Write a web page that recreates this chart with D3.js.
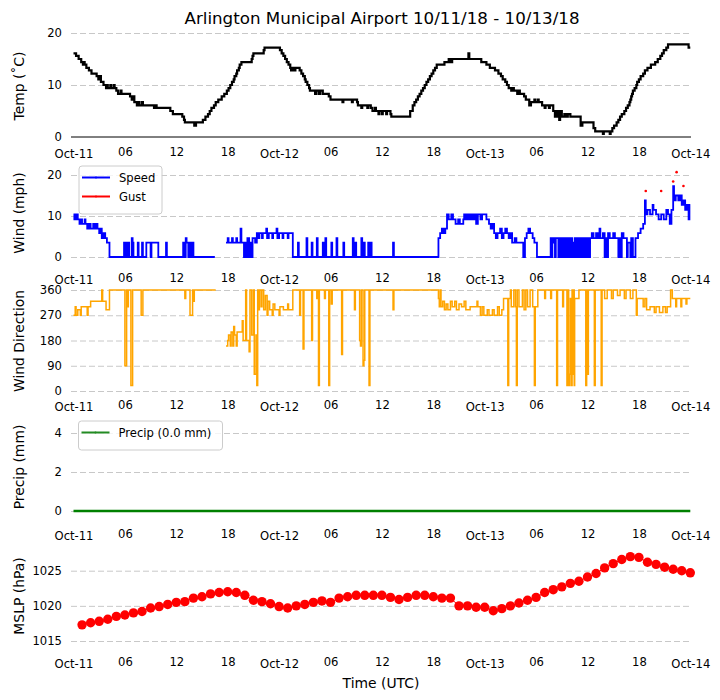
<!DOCTYPE html>
<html>
<head>
<meta charset="utf-8">
<script src="https://cdn.jsdelivr.net/npm/d3@7"></script>
<style>
  body { margin: 0; background: #fff; }
  svg { font-family: "DejaVu Sans", sans-serif; }
</style>
</head>
<body>
<script>
// hours since 2018-10-11 00 UTC
const hourTicks = [0, 6, 12, 18, 24, 30, 36, 42, 48, 54, 60, 66, 72];
const hourLabels = ["Oct-11", "06", "12", "18", "Oct-12", "06", "12", "18", "Oct-13", "06", "12", "18", "Oct-14"];
const dayTicks = [0, 24, 48, 72];

// [hour, degC] - value holds until the next entry
const tempObs = [
  [0,16.1],[0.3,15.6],[0.6,15.0],[0.9,14.4],[1.1,13.9],[1.2,14.4],[1.3,13.9],[1.5,13.3],[1.8,12.8],[2.1,12.2],[2.7,11.7],[2.9,11.1],[3.1,11.7],[3.2,10.6],[3.5,10.0],[3.8,9.4],[3.9,10.0],[4.0,9.4],[4.3,10.0],[4.4,9.4],[4.7,10.0],[4.8,9.4],[5.0,8.9],[5.2,8.3],[5.5,8.9],[5.6,8.3],
  [6.6,7.8],[6.8,7.2],[7.0,7.8],[7.1,6.7],[7.4,6.1],[7.6,6.7],[7.7,6.1],[8.0,6.7],[8.1,6.1],[9.4,5.6],[9.6,6.1],[9.7,5.6],[11.3,5.0],[11.6,4.4],[12.7,3.9],[12.9,3.3],[13.0,2.8],[14.1,2.2],[14.3,2.8],[15.1,3.3],[15.4,3.9],[15.7,4.4],[15.9,5.0],[16.1,5.6],[16.4,6.1],[16.6,6.7],[16.9,7.2],[17.3,7.8],[17.6,8.3],[17.9,8.9],
  [18.1,9.4],[18.3,10.0],[18.5,10.6],[18.7,11.1],[18.8,11.7],[19.0,12.2],[19.1,12.8],[19.3,13.3],[19.4,13.9],[19.6,14.4],[20.8,15.0],[20.9,15.6],[21.0,16.1],[22.2,16.7],[22.3,17.2],[24.1,16.7],[24.3,16.1],[24.5,15.6],[24.7,15.0],[24.9,14.4],[25.1,13.9],[25.3,13.3],[25.4,12.8],[25.6,13.3],[25.8,12.8],[25.9,13.3],
  [26.4,12.8],[26.6,12.2],[26.8,11.7],[27.0,11.1],[27.1,10.6],[27.3,10.0],[27.5,9.4],[27.6,8.9],[28.2,8.3],[28.3,8.9],[28.6,8.3],[28.8,8.9],[29.1,8.3],[29.8,7.8],[30.0,7.2],[31.4,6.7],[31.5,7.2],[32.5,6.7],[32.6,7.2],[33.1,6.7],[33.2,6.1],[33.6,5.6],[33.7,6.1],[34.3,5.6],[34.4,6.1],[34.7,5.6],[34.9,5.0],[35.2,5.6],[35.3,5.0],[35.6,4.4],[35.7,5.0],
  [36.0,4.4],[36.1,5.0],[36.5,4.4],[36.6,5.0],[37.0,4.4],[37.1,3.9],[39.3,5.0],[39.6,6.1],[39.8,6.7],[40.0,7.2],[40.2,7.8],[40.4,8.3],[40.6,8.9],[40.8,9.4],[41.0,10.0],[41.2,10.6],[41.4,11.1],[41.6,11.7],[41.8,12.2],[42.0,12.8],[42.2,13.3],[42.4,13.9],[43.3,14.4],[43.8,15.0],[44.0,14.4],[44.2,15.0],[46.1,16.1],[46.2,15.0],[47.6,14.4],
  [48.2,13.9],[48.6,13.3],[49.2,12.8],[49.6,12.2],[49.9,11.7],[50.1,11.1],[50.4,10.6],[50.6,10.0],[50.8,9.4],[51.1,8.9],[51.3,9.4],[51.4,8.9],[51.8,8.3],[52.0,8.9],[52.1,8.3],[52.6,7.8],[52.8,7.2],[53.2,6.1],[53.4,6.7],[53.8,7.2],[53.9,6.7],[54.2,7.2],[54.3,6.7],[54.7,6.1],[55.0,5.6],[55.1,6.1],[55.5,5.6],[55.6,6.1],
  [56.0,5.0],[56.2,3.9],[56.3,5.0],[56.5,3.9],[56.6,5.0],[56.7,3.3],[56.8,5.0],[57.0,3.9],[57.3,4.4],[57.5,3.9],[57.7,4.4],[58.0,3.9],[59.2,2.2],[59.4,2.8],[60.7,1.7],[60.9,1.1],[61.8,0.6],[61.9,1.1],[62.6,0.6],[62.7,1.1],[62.9,1.7],[63.1,2.2],[63.4,2.8],[63.6,3.3],[63.8,3.9],[64.0,4.4],[64.3,5.0],[64.5,5.6],[64.7,6.1],[64.9,6.7],
  [65.0,7.2],[65.1,7.8],[65.2,8.3],[65.3,8.9],[65.5,9.4],[65.7,10.0],[65.8,10.6],[66.0,11.1],[66.2,11.7],[66.5,12.2],[66.7,12.8],[67.0,13.3],[67.4,13.9],[67.9,14.4],[68.2,15.0],[68.5,15.6],[68.7,16.1],[68.9,16.7],[69.2,17.2],[69.4,17.8],[71.8,17.2],[72,17.2]
];

// [hour, mph]; null = missing
const speedObs = [
  [0,10.4],[0.1,9.2],[0.2,10.4],[0.3,9.2],[0.45,10.4],[0.5,9.2],[0.7,8.1],[0.9,9.2],[1.0,8.1],[1.3,9.2],[1.4,8.1],[1.6,6.9],[1.8,8.1],[2.0,6.9],[2.3,8.1],[2.4,6.9],[2.6,8.1],[2.8,6.9],[3.0,5.8],[3.2,6.9],[3.3,4.6],[3.5,5.8],[3.7,4.6],[3.9,3.5],[4.2,0],
  [5.9,3.5],[6.0,0],[6.1,3.5],[6.2,0],[6.4,3.5],[6.5,0],[6.8,4.6],[6.9,3.5],[7.0,0],[7.5,3.5],[7.6,0],[8.0,3.5],[8.1,0],[8.5,3.5],[9.0,0],[9.1,3.5],[9.9,0],[10.8,3.5],[10.9,0],[12.8,3.5],[12.9,0],[13.1,4.6],[13.2,3.5],[13.4,0],[13.5,3.5],[13.7,0],[13.8,3.5],[14.0,0],[16.5,0],[16.6,null],
  [17.8,3.5],[18.0,4.6],[18.1,3.5],[18.5,4.6],[18.6,3.5],[19.0,4.6],[19.1,3.5],[19.5,6.9],[19.6,3.5],[19.9,0],[20.0,3.5],[20.2,0],[20.3,4.6],[20.5,0],[20.6,3.5],[20.8,0],[20.9,4.6],[21.2,3.5],[21.4,5.8],[21.5,4.6],
  [21.7,5.8],[22.0,4.6],[22.1,5.8],[22.5,6.9],[22.6,4.6],[22.8,5.8],[23.2,4.6],[23.3,5.8],[23.7,6.9],[23.8,4.6],[24.0,5.8],[24.4,4.6],[24.5,5.8],[25.0,4.6],[25.1,5.8],[25.6,0],
  [26.2,3.5],[26.3,0],[27.2,4.6],[27.3,0],[27.8,3.5],[27.9,0],[28.4,4.6],[28.5,0],[29.1,3.5],[29.2,0],[29.4,4.6],[29.5,0],[30.1,3.5],[30.2,0],[30.7,4.6],[30.8,0],[31.5,3.5],[31.6,0],[32.6,4.6],[32.7,0],[32.9,3.5],[33.0,0],[33.6,4.6],[33.7,0],[33.9,3.5],[34.0,0],[34.4,3.5],[34.5,0],[34.7,3.5],[34.8,0],
  [37.3,3.5],[37.4,0],[42.6,4.6],[42.8,5.8],[43.0,6.9],[43.2,5.8],[43.4,6.9],[43.6,10.4],[43.8,9.2],[44.1,10.4],[44.3,9.2],[44.6,8.1],[44.9,9.2],[45.1,8.1],[45.5,9.2],[45.6,10.4],[45.8,9.2],[46.0,10.4],[46.2,9.2],[46.4,10.4],[46.6,9.2],[46.8,10.4],[47.0,8.1],[47.2,10.4],[47.5,9.2],[47.7,10.4],
  [48.2,9.2],[48.5,8.1],[48.7,6.9],[48.9,8.1],[49.1,5.8],[49.3,4.6],[49.5,5.8],[49.8,6.9],[50.0,4.6],[50.2,5.8],[50.4,6.9],[50.6,5.8],[50.8,4.6],[51.0,5.8],[51.2,3.5],[51.5,4.6],[51.7,3.5],[52.5,0],[52.7,4.6],[52.9,5.8],[53.1,6.9],[53.3,5.8],[53.6,4.6],[53.8,3.5],[54.1,0],
  [55.7,4.6],[55.8,0],[55.9,3.5],[56.0,4.6],[56.2,0],[56.3,4.6],[56.6,0],[56.7,4.6],[56.8,0],[56.9,4.6],[57.0,0],[57.1,4.6],[57.3,0],[57.4,4.6],[57.6,0],[57.7,4.6],[57.8,0],[57.9,4.6],[58.0,0],[58.1,4.6],[58.2,0],[58.3,3.5],[58.4,0],[58.5,4.6],[58.6,0],[58.7,4.6],[58.8,0],[58.9,4.6],[59.0,0],[59.1,4.6],[59.2,0],[59.3,4.6],[59.4,0],[59.5,4.6],[59.6,0],[59.7,4.6],[59.8,0],[59.9,4.6],[60.0,0],[60.1,4.6],[60.2,0],[60.3,4.6],
  [60.5,5.8],[60.7,4.6],[61.0,5.8],[61.2,4.6],[61.4,6.9],[61.5,4.6],[61.8,5.8],[62.0,0],[62.1,4.6],[62.3,0],[62.4,5.8],[62.6,4.6],[63.0,5.8],[63.2,4.6],[63.6,0],[63.7,4.6],[63.9,0],[64.0,5.8],[64.2,4.6],[64.6,0],[64.7,3.5],[65.0,0],[65.1,4.6],[65.3,0],[65.6,4.6],[65.9,5.8],[66.2,6.9],[66.5,8.1],
  [66.7,13.8],[66.8,10.4],[67.0,11.5],[67.3,10.4],[67.6,12.7],[67.7,11.5],[68.0,10.4],[68.3,9.2],[68.6,10.4],[68.9,9.2],[69.2,11.5],[69.4,10.4],[69.6,8.1],[69.8,11.5],[70.0,17.3],[70.1,13.8],[70.3,15.0],[70.6,13.8],[70.8,15.0],[71.0,12.7],[71.2,13.8],[71.4,11.5],[71.6,12.7],[71.8,9.2],[71.9,12.7],[72,12.7]
];

const gustObs = [[66.8,16.1],[68.6,16.1],[70.0,18.4],[70.4,20.7],[71.2,17.3]];

// [hour, degrees]; null = missing
const dirObs = [
  [0,270],[0.2,300],[0.3,270],[0.5,290],[0.8,270],[0.9,300],[1.6,270],[1.7,300],[2.0,320],[3.3,360],[3.4,320],[3.8,290],[4.2,360],
  [6.0,90],[6.2,360],[6.3,300],[6.4,360],[6.7,20],[6.9,360],[7.9,270],[8.1,360],[13.0,330],[13.1,360],[13.6,270],[13.9,360],[14.0,320],[14.1,360],[16.6,360],[16.7,null],
  [17.8,160],[18.0,180],[18.1,200],[18.3,160],[18.4,210],[18.6,160],[18.7,230],[18.8,200],[19.0,160],[19.1,210],[19.7,250],[19.8,180],[20.1,360],[20.2,180],[20.5,140],[20.6,360],[20.8,200],[21.0,360],[21.1,60],[21.3,200],[21.4,20],[21.5,360],[21.6,290],[21.7,360],
  [21.9,300],[22.0,360],[22.2,290],[22.4,340],[22.6,270],[22.7,320],[22.9,290],[23.2,270],[23.3,310],[23.5,290],[24.0,270],[24.1,300],[24.5,290],[25.0,310],[25.1,290],[25.6,360],
  [26.4,270],[26.5,360],[26.8,150],[26.9,360],[27.8,180],[27.9,360],[28.4,330],[28.5,360],[28.6,20],[28.7,360],[29.3,330],[29.4,360],[29.8,20],[29.9,360],[30.1,310],[30.2,360],[31.3,130],[31.4,360],[32.8,290],[32.9,360],[33.4,180],[33.5,160],[33.6,360],[33.8,90],[33.9,110],[34.0,360],[34.5,20],[34.6,360],
  [37.3,290],[37.4,360],[42.6,330],[42.7,300],[42.8,360],[42.9,300],[43.1,320],[43.3,290],[43.5,310],[43.7,290],[44.0,320],[44.2,300],[44.5,320],[44.7,290],[45.0,310],[45.3,300],[45.6,320],[45.8,290],[46.3,300],[47.1,320],[47.2,300],
  [47.5,270],[47.7,300],[47.9,270],[48.3,290],[48.5,270],[48.9,290],[49.1,270],[49.5,300],[49.7,270],[50.0,290],[50.2,330],[50.7,20],[50.8,330],[51.0,360],[51.1,300],[51.4,360],[51.6,300],[51.7,20],[51.8,360],[52.0,300],[52.4,360],[52.6,290],[52.8,360],[53.0,300],[53.3,360],[53.6,300],[53.8,20],[53.9,300],[54.2,360],
  [55.0,330],[55.1,360],[55.7,330],[55.8,360],[56.4,20],[56.5,360],[57.1,300],[57.2,360],[57.6,20],[57.7,360],[57.8,20],[57.9,60],[58.0,330],[58.1,20],[58.2,360],[58.3,60],[58.4,360],[58.45,20],[58.5,330],[59.0,360],
  [59.8,20],[59.9,360],[60.0,60],[60.1,360],[60.8,20],[60.9,360],[61.6,20],[61.7,360],[62.0,330],[62.3,360],[62.8,330],[63.0,360],[63.5,340],[63.8,360],[64.3,330],[64.5,360],[65.0,330],[65.3,360],[65.7,270],[65.8,330],
  [66.5,300],[66.7,330],[66.9,290],[67.3,300],[67.8,280],[68.0,300],[68.4,280],[68.8,300],[69.1,280],[69.3,300],[69.7,360],[69.9,330],[70.3,300],[70.4,330],[70.9,300],[71.0,330],[71.5,310],[71.6,330],[72,330]
];

const precipObs = [[0,0],[72,0]];

// hourly mean sea level pressure, hPa
const mslpHours = d3.range(1, 73);
const mslpValues = [
  1017.3,1017.6,1017.8,1018.1,1018.5,1018.7,1019.0,1019.2,1019.7,1019.9,1020.2,1020.5,
  1020.6,1021.1,1021.3,1021.7,1021.9,1022.0,1021.9,1021.5,1020.8,1020.6,1020.3,1019.9,
  1019.7,1020.0,1020.2,1020.5,1020.7,1020.5,1021.1,1021.3,1021.5,1021.5,1021.5,1021.5,
  1021.2,1020.9,1021.2,1021.5,1021.5,1021.3,1021.1,1021.1,1020.0,1020.0,1019.8,1019.8,
  1019.3,1019.6,1020.0,1020.4,1020.8,1021.2,1021.9,1022.3,1022.7,1023.2,1023.5,1024.1,
  1024.6,1025.4,1026.0,1026.6,1027.0,1026.9,1026.2,1025.9,1025.5,1025.2,1025.0,1024.7
];

const W = 720, H = 700;
const axLeft = 71, axRight = 691;

const svg = d3.select("body").append("svg")
  .attr("width", W).attr("height", H);

const x = d3.scaleLinear().domain([0, 72]).range([73.5, 690.3]);

svg.append("text")
  .attr("x", 382).attr("y", 24)
  .attr("text-anchor", "middle")
  .style("font-size", "16.7px")
  .text("Arlington Municipal Airport 10/11/18 - 10/13/18");

function panel(cfg) {
  const y = d3.scaleLinear().domain(cfg.domain).range(cfg.range);
  const g = svg.append("g");

  // dashed grid
  g.append("g")
    .attr("transform", `translate(${axLeft},0)`)
    .call(d3.axisLeft(y).tickValues(cfg.ticks).tickSize(-(axRight - axLeft)).tickFormat(""))
    .call(s => s.select(".domain").remove())
    .selectAll("line")
      .attr("stroke", "#c8c8c8")
      .attr("stroke-width", 1)
      .attr("stroke-dasharray", "6,3");

  // y tick labels
  g.append("g")
    .attr("transform", `translate(${axLeft},0)`)
    .call(d3.axisLeft(y).tickValues(cfg.ticks).tickSize(0).tickPadding(9).tickFormat(d => String(d)))
    .call(s => s.select(".domain").remove())
    .selectAll("text")
      .style("font-size", "11.6px")
      .style("font-family", "DejaVu Sans")
      .attr("fill", "#000");

  // x tick labels, day labels sit a little lower
  g.append("g")
    .attr("transform", `translate(0,${cfg.xLabelY})`)
    .call(d3.axisBottom(x).tickValues(hourTicks).tickSize(0).tickFormat((d, i) => hourLabels[i]))
    .call(s => s.select(".domain").remove())
    .selectAll("text")
      .attr("y", d => dayTicks.includes(d) ? 2 : 0)
      .attr("dy", "0.35em")
      .style("font-size", "11.6px")
      .style("font-family", "DejaVu Sans")
      .attr("fill", "#000");

  // y label
  g.append("text")
    .attr("transform", `translate(19,${cfg.labelY}) rotate(-90)`)
    .attr("text-anchor", "middle")
    .attr("dy", "0.35em")
    .style("font-size", "13.9px")
    .text(cfg.label);

  return { g, y };
}

function legend(g, x0, y0, w, items) {
  const h = 10 + items.length * 19;
  const lg = g.append("g").attr("transform", `translate(${x0},${y0})`);
  lg.append("rect")
    .attr("width", w).attr("height", h)
    .attr("rx", 3)
    .attr("fill", "#fff").attr("fill-opacity", 0.8)
    .attr("stroke", "#ccc");
  items.forEach((it, i) => {
    const cy = 11.5 + i * 19;
    lg.append("line")
      .attr("x1", 3).attr("x2", 31)
      .attr("y1", cy).attr("y2", cy)
      .attr("stroke", it.color).attr("stroke-width", 2);
    lg.append("circle").attr("cx", 17).attr("cy", cy).attr("r", 1).attr("fill", it.color);
    lg.append("text")
      .attr("x", 40).attr("y", cy).attr("dy", "0.35em")
      .style("font-size", "11.6px")
      .text(it.label);
  });
}

const stepLine = y => d3.line()
  .defined(d => d[1] != null)
  .x(d => x(d[0]))
  .y(d => y(d[1]))
  .curve(d3.curveStepAfter);

// temperature
const pT = panel({ domain: [0, 20], range: [137, 33], ticks: [10, 20], xLabelY: 152, labelY: 86, label: "Temp (˚C)" });
pT.g.append("line")
  .attr("x1", axLeft).attr("x2", axRight)
  .attr("y1", pT.y(0)).attr("y2", pT.y(0))
  .attr("stroke", "#000").attr("stroke-width", 1);
pT.g.append("text")
  .attr("x", axLeft - 9).attr("y", pT.y(0)).attr("dy", "0.32em")
  .attr("text-anchor", "end").style("font-size", "11.6px").text("0");
pT.g.append("path")
  .datum(tempObs)
  .attr("d", stepLine(pT.y))
  .attr("fill", "none")
  .attr("stroke", "#000")
  .attr("stroke-width", 2.2);

// wind speed and gust
const pW = panel({ domain: [0, 20], range: [257, 175], ticks: [0, 10, 20], xLabelY: 278, labelY: 213, label: "Wind (mph)" });
pW.g.append("path")
  .datum(speedObs)
  .attr("d", stepLine(pW.y))
  .attr("fill", "none")
  .attr("stroke", "#0000ff")
  .attr("stroke-width", 1.8);
pW.g.selectAll("circle.gust")
  .data(gustObs)
  .join("circle")
  .attr("class", "gust")
  .attr("cx", d => x(d[0]))
  .attr("cy", d => pW.y(d[1]))
  .attr("r", 1.3)
  .attr("fill", "#ff0000");
legend(pW.g, 79, 166, 83, [{ label: "Speed", color: "#0000ff" }, { label: "Gust", color: "#ff0000" }]);

// wind direction
const pD = panel({ domain: [0, 360], range: [391, 290], ticks: [0, 90, 180, 270, 360], xLabelY: 405, labelY: 341, label: "Wind Direction" });
pD.g.append("path")
  .datum(dirObs)
  .attr("d", stepLine(pD.y))
  .attr("fill", "none")
  .attr("stroke", "#ffa500")
  .attr("stroke-width", 1.5);

// precipitation
const pP = panel({ domain: [0, 4], range: [511, 433], ticks: [0, 2, 4], xLabelY: 534, labelY: 467, label: "Precip (mm)" });
pP.g.append("path")
  .datum(precipObs)
  .attr("d", stepLine(pP.y))
  .attr("fill", "none")
  .attr("stroke", "#008000")
  .attr("stroke-width", 2.6);
legend(pP.g, 78.5, 421, 144, [{ label: "Precip (0.0 mm)", color: "#228b22" }]);

// sea level pressure
const pM = panel({ domain: [1015, 1025], range: [641, 570.7], ticks: [1015, 1020, 1025], xLabelY: 661.5, labelY: 596, label: "MSLP (hPa)" });
const mslp = mslpHours.map((h, i) => [h, mslpValues[i]]);
pM.g.append("path")
  .datum(mslp)
  .attr("d", d3.line().x(d => x(d[0])).y(d => pM.y(d[1])))
  .attr("fill", "none")
  .attr("stroke", "#ff0000")
  .attr("stroke-width", 1);
pM.g.selectAll("circle.p")
  .data(mslp)
  .join("circle")
  .attr("class", "p")
  .attr("cx", d => x(d[0]))
  .attr("cy", d => pM.y(d[1]))
  .attr("r", 4.7)
  .attr("fill", "#ff0000");

svg.append("text")
  .attr("x", 381).attr("y", 688)
  .attr("text-anchor", "middle")
  .style("font-size", "13.9px")
  .text("Time (UTC)");
</script>
</body>
</html>
